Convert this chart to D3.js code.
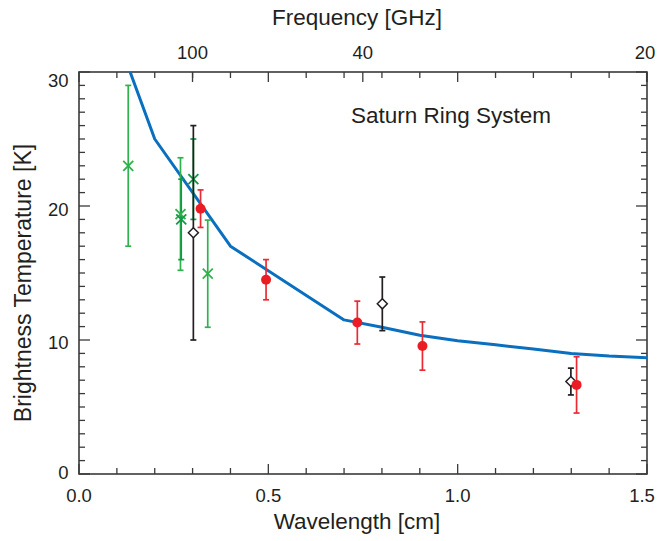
<!DOCTYPE html>
<html><head><meta charset="utf-8">
<script src="https://cdn.jsdelivr.net/npm/d3@7"></script>
<style>body{margin:0;background:#fff}svg{display:block}text{font-family:"Liberation Sans",Arial,Helvetica,sans-serif;fill:#231f20}</style>
</head><body>
<script>
// ---- data ----
const modelWavelength = [0.1, 0.2, 0.4, 0.7, 0.8, 0.9, 1.0, 1.1, 1.2, 1.3, 1.4, 1.5];
const modelTemp       = [32.7, 25.0, 17.0, 11.5, 10.95, 10.35, 9.95, 9.64, 9.32, 9.0, 8.8, 8.68];

const greenLightWl  = [0.130, 0.268, 0.340];
const greenLightT   = [23.0, 19.4, 14.95];
const greenLightErr = [6.0, 4.2, 4.0];

const greenDarkWl  = [0.270, 0.302];
const greenDarkT   = [19.0, 22.0];
const greenDarkErr = [3.0, 3.0];

const blackWl  = [0.302, 0.801, 1.299];
const blackT   = [18.0, 12.7, 6.9];
const blackErr = [8.0, 2.0, 1.0];

const redWl  = [0.321, 0.494, 0.735, 0.907, 1.314];
const redT   = [19.8, 14.5, 11.3, 9.55, 6.65];
const redErr = [1.4, 1.5, 1.6, 1.8, 2.1];

const xTickLabels = ["0.0", "0.5", "1.0", "1.5"];
const yTickLabels = ["0", "10", "20", "30"];
const freqTicks = [100, 40, 20]; // GHz
const title = "Saturn Ring System";

// ---- layout ----
const W = 658, H = 541;
const m = {left: 79, right: 658 - 647, top: 72, bottom: 541 - 474};
const svg = d3.select("body").append("svg").attr("width", W).attr("height", H);
const x = d3.scaleLinear().domain([0, 1.5]).range([m.left, W - m.right]);
const y = d3.scaleLinear().domain([0, 30]).range([H - m.bottom, m.top]);
const x0 = x.range()[0], x1 = x.range()[1], y0 = y.range()[0], y1 = y.range()[1];
const axisColor = "#3a3a3a";

svg.append("clipPath").attr("id", "clip").append("rect")
  .attr("x", x0).attr("y", y1).attr("width", x1 - x0).attr("height", y0 - y1);

// frame
svg.append("rect").attr("x", x0).attr("y", y1).attr("width", x1 - x0).attr("height", y0 - y1)
  .attr("fill", "none").attr("stroke", axisColor).attr("stroke-width", 1.6);

// x ticks (bottom & top mirrored)
const xMinor = d3.range(0, 16).map(i => i / 10);
const g = svg.append("g").attr("stroke", axisColor).attr("stroke-width", 1.3);
xMinor.forEach(v => {
  const major = Math.abs(v * 2 - Math.round(v * 2)) < 1e-9;
  const len = major ? 10 : 6;
  g.append("line").attr("x1", x(v)).attr("x2", x(v)).attr("y1", y0).attr("y2", y0 - len);
  g.append("line").attr("x1", x(v)).attr("x2", x(v)).attr("y1", y1).attr("y2", y1 + len);
});
// frequency ticks on top
freqTicks.forEach(f => {
  const wl = 29.9792458 / f;
  g.append("line").attr("x1", x(wl)).attr("x2", x(wl)).attr("y1", y1).attr("y2", y1 + 10);
});
// y ticks
d3.range(0, 31).forEach(v => {
  const len = v % 10 === 0 ? 11 : 6;
  g.append("line").attr("x1", x0).attr("x2", x0 + len).attr("y1", y(v)).attr("y2", y(v));
  g.append("line").attr("x1", x1).attr("x2", x1 - len).attr("y1", y(v)).attr("y2", y(v));
});

// tick labels
xTickLabels.forEach(t => {
  const px = Math.min(x(+t), W - 16);
  svg.append("text").attr("x", px).attr("y", 501.5).attr("text-anchor", "middle")
    .attr("font-size", 18.5).text(t);
});
const yLabelDy = {"0": -2, "10": 2.5, "20": 3, "30": 8};
yTickLabels.forEach(t => {
  svg.append("text").attr("x", x0 - 10.5).attr("y", y(+t) + yLabelDy[t] + 6.6)
    .attr("text-anchor", "end").attr("font-size", 18.5).text(t);
});
freqTicks.forEach(f => {
  const wl = 29.9792458 / f;
  const px = Math.min(x(wl), W - 13);
  svg.append("text").attr("x", px).attr("y", 59).attr("text-anchor", "middle")
    .attr("font-size", 18.5).text(String(f));
});

// axis titles
svg.append("text").attr("x", 357).attr("y", 529).attr("text-anchor", "middle")
  .attr("font-size", 22.5).text("Wavelength [cm]");
svg.append("text").attr("x", 357).attr("y", 25).attr("text-anchor", "middle")
  .attr("font-size", 22.5).text("Frequency [GHz]");
svg.append("text").attr("transform", "translate(31,283) rotate(-90)").attr("text-anchor", "middle")
  .attr("font-size", 23).text("Brightness Temperature [K]");
svg.append("text").attr("x", 351).attr("y", 123).attr("font-size", 22.5).text(title);

// model line
const model = modelWavelength.map((w, i) => [w, modelTemp[i]]);
svg.append("path").attr("clip-path", "url(#clip)")
  .attr("d", d3.line().x(d => x(d[0])).y(d => y(d[1]))(model))
  .attr("fill", "none").attr("stroke", "#0a6fbf").attr("stroke-width", 3)
  .attr("stroke-linejoin", "round");

// error bars helper
function errBars(wl, t, err, color) {
  const eg = svg.append("g").attr("stroke", color).attr("stroke-width", 1.7);
  wl.forEach((w, i) => {
    const cx = x(w), ty = y(t[i] + err[i]), by = y(t[i] - err[i]);
    eg.append("line").attr("x1", cx).attr("x2", cx).attr("y1", ty).attr("y2", by);
    eg.append("line").attr("x1", cx - 3).attr("x2", cx + 3).attr("y1", ty).attr("y2", ty);
    eg.append("line").attr("x1", cx - 3).attr("x2", cx + 3).attr("y1", by).attr("y2", by);
  });
}
function crosses(wl, t, color) {
  const cg = svg.append("g").attr("stroke", color).attr("stroke-width", 1.8);
  wl.forEach((w, i) => {
    const cx = x(w), cy = y(t[i]), s = 5;
    cg.append("line").attr("x1", cx - s).attr("x2", cx + s).attr("y1", cy - s).attr("y2", cy + s);
    cg.append("line").attr("x1", cx - s).attr("x2", cx + s).attr("y1", cy + s).attr("y2", cy - s);
  });
}

errBars(greenLightWl, greenLightT, greenLightErr, "#2fb24e");
errBars(greenDarkWl, greenDarkT, greenDarkErr, "#119a47");
crosses(greenLightWl, greenLightT, "#2fb24e");
crosses(greenDarkWl, greenDarkT, "#119a47");

errBars(blackWl, blackT, blackErr, "#231f20");
svg.append("g").selectAll("path").data(blackWl).join("path")
  .attr("d", (w, i) => {
    const cx = x(w), cy = y(blackT[i]), s = 5;
    return `M${cx},${cy - s}L${cx + s},${cy}L${cx},${cy + s}L${cx - s},${cy}Z`;
  })
  .attr("fill", "#fff").attr("stroke", "#231f20").attr("stroke-width", 1.5);

errBars(redWl, redT, redErr, "#ec2a35");
svg.append("g").selectAll("circle").data(redWl).join("circle")
  .attr("cx", w => x(w)).attr("cy", (w, i) => y(redT[i])).attr("r", 5)
  .attr("fill", "#ec1c24");
</script>
</body></html>
